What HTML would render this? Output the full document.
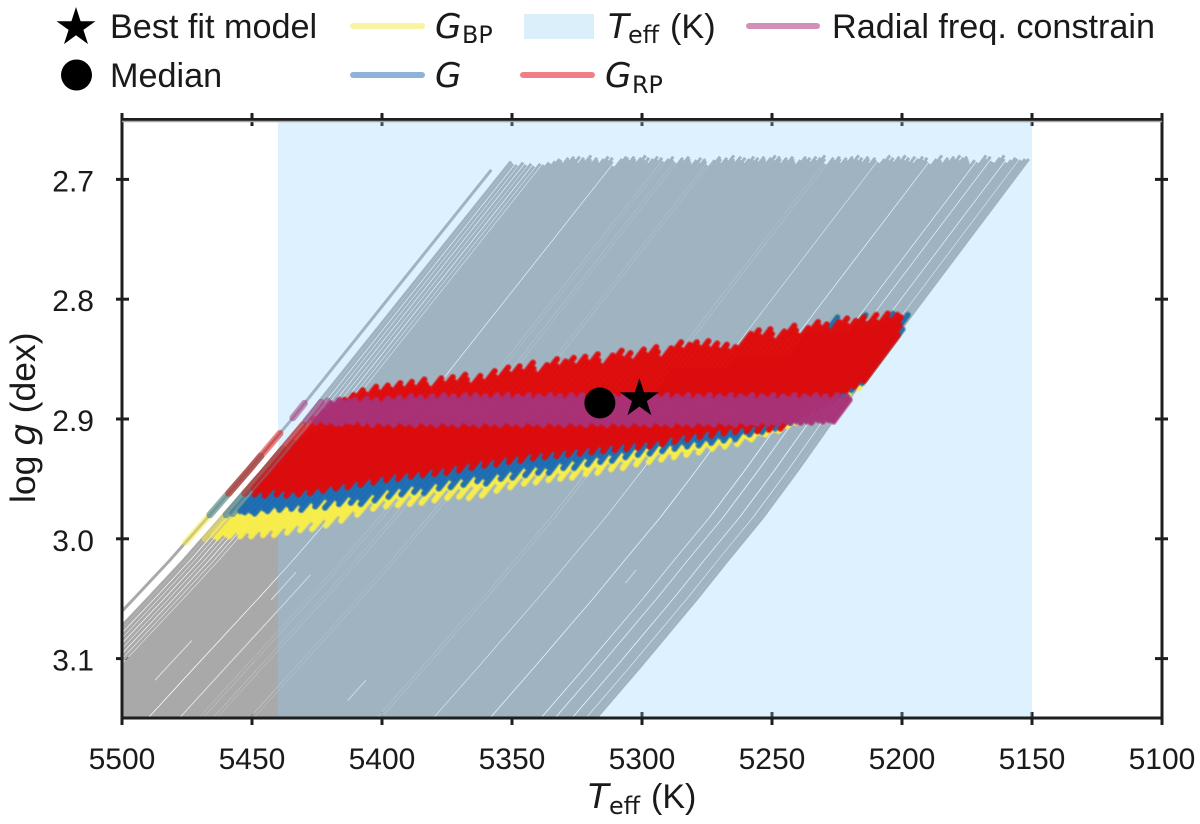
<!DOCTYPE html>
<html lang="en">
<head>
<meta charset="utf-8">
<title>log g versus effective temperature</title>
<style>
html,body{margin:0;padding:0;background:#fff;}
svg{display:block;font-family:"Liberation Sans",Arial,sans-serif;fill:#1a1a1a;}
.m{font-family:"DejaVu Sans",sans-serif;}
.mi{font-family:"DejaVu Sans",sans-serif;font-style:italic;}
</style>
</head>
<body>
<svg id="chart" xmlns="http://www.w3.org/2000/svg" width="1200" height="824" viewBox="0 0 1200 824">
  <defs><clipPath id="plot-clip"><rect x="122" y="120" width="1040" height="598"/></clipPath></defs>
  <g id="under-ticks"></g>
  <g id="gray-layer" clip-path="url(#plot-clip)"></g>
  <rect id="teff-span" y="121" height="597" fill="rgba(135,206,250,0.285)"/>
  <g id="band-layer" clip-path="url(#plot-clip)"></g>
  <g id="markers"></g>
  <g fill="none" stroke="#1e1e1e" stroke-width="3">
    <path d="M122 119.5H1162V718H122Z"/>
    <path d="M122 121.5H1162" stroke="#a8a8a8" stroke-width="1.5"/>
  </g>
  <g id="tick-labels" font-size="30"></g>
  <text y="808" font-size="34"><tspan class="mi" x="588">T</tspan><tspan class="m" x="609" y="814" font-size="23.8">eff</tspan><tspan x="651" y="808">(K)</tspan></text>
  <text transform="translate(35 503) rotate(-90)" font-size="35.5">log <tspan class="mi">g</tspan> (dex)</text>
  <g font-size="34.2">
    <polygon id="legend-star" fill="#000"/>
    <text x="110" y="38">Best fit model</text>
    <circle cx="76.5" cy="75" r="15.5" fill="#000"/>
    <text x="110" y="87">Median</text>
    <line x1="353" x2="422" y1="26" y2="26" stroke="#f8f3a0" stroke-width="6" stroke-linecap="round"/>
    <text y="38"><tspan class="mi" x="435">G</tspan><tspan class="m" x="462" y="43" font-size="23.8">BP</tspan></text>
    <line x1="353" x2="422" y1="75" y2="75" stroke="#8fb2d8" stroke-width="6" stroke-linecap="round"/>
    <text class="mi" x="435" y="87">G</text>
    <rect x="524" y="14" width="70" height="25" fill="#dbeffa"/>
    <text y="38"><tspan class="mi" x="608">T</tspan><tspan class="m" x="628" y="43" font-size="23.8">eff</tspan><tspan x="670" y="38">(K)</tspan></text>
    <line x1="523" x2="592" y1="75" y2="75" stroke="#f08085" stroke-width="6" stroke-linecap="round"/>
    <text y="87"><tspan class="mi" x="605">G</tspan><tspan class="m" x="632" y="93" font-size="23.8">RP</tspan></text>
    <line x1="749" x2="817" y1="26" y2="26" stroke="#d48fb8" stroke-width="6" stroke-linecap="round"/>
    <text x="832" y="38">Radial freq. constrain</text>
  </g>
</svg>
<script>
const xTickValues = [5500,5450,5400,5350,5300,5250,5200,5150,5100];
const xTickLabels = ["5500","5450","5400","5350","5300","5250","5200","5150","5100"];
const yTickValues = [2.7,2.8,2.9,3.0,3.1];
const yTickLabels = ["2.7","2.8","2.9","3.0","3.1"];
const teffSpan = [5440,5150];
const medianPoint = [5316.2,2.8866];
const bestFitPoint = [5301,2.883];

const trackShapeLogg = [2.67,2.684,2.815,2.901,2.9426,2.982,3.0177,3.049,3.107,3.149,3.2];
const trackShapeHot = [-5,0,48.3,80,96.2,112,126.5,140,165.4,183.5,205.8];
const trackShapeCool = [-4.7,0,45.4,75,88.5,101.9,115.4,126.9,149.2,165.8,183];

const grayTopTeff = [
5355,5350,5348.5,5346.7,5345,5343.2,5341.5,5339.7,5338,5336.3,
5335,5334,5333,5332,5331,5330,5329,5328,5327.2,5326.5,
5326,5325,5324,5323,5322,5321,5320,5319,5318,5317,
5316,5315,5314,5313,5312,5311,5309.2,5308,5307,5306,
5305,5304,5303,5302,5301,5300,5299,5298,5297,5296,
5295,5294,5293,5291.5,5290,5289,5288,5286.5,5285,5284,
5283,5282,5281,5280,5279,5278,5277,5276,5275,5273.5,
5272,5271,5270,5269,5268,5267,5266,5265,5264,5263,
5262,5261,5260,5259,5258,5257,5256,5255,5254,5253,
5252,5251,5250,5249,5248,5247,5246,5245,5244,5243,
5242,5241,5240,5239,5238,5237,5236,5235,5234,5233,
5232,5231,5230,5228.5,5227,5226,5225,5224,5223,5222,
5221,5220,5219,5218,5217,5216,5215,5214,5213,5212,
5211,5210,5208.3,5207,5206,5205,5204,5203,5202,5201,
5200,5199,5198,5197,5196,5195,5194,5193,5192,5191,
5190,5188.2,5187,5186,5185,5184,5183,5182,5181,5180,
5179,5178,5177,5176,5175,5174,5173,5172,5170.2,5169,
5168,5167,5165.2,5164,5163,5162,5161,5159.2,5158,5157,
5156,5154.3,5153,5151.6];
const grayTopLogg = [
2.692,2.685,2.687,2.688,2.686,2.688,2.687,2.689,2.687,2.688,
2.686,2.687,2.685,2.683,2.684,2.686,2.682,2.684,2.681,2.685,
2.683,2.681,2.686,2.682,2.684,2.680,2.683,2.685,2.682,2.684,
2.686,2.683,2.681,2.684,2.682,2.685,2.689,2.683,2.681,2.682,
2.684,2.681,2.683,2.685,2.682,2.680,2.684,2.682,2.686,2.683,
2.681,2.684,2.682,2.685,2.683,2.681,2.684,2.686,2.682,2.684,
2.681,2.683,2.685,2.687,2.684,2.682,2.686,2.683,2.685,2.688,
2.684,2.681,2.683,2.686,2.682,2.684,2.680,2.683,2.685,2.681,
2.684,2.682,2.686,2.683,2.681,2.684,2.682,2.685,2.681,2.683,
2.685,2.682,2.680,2.684,2.681,2.683,2.686,2.682,2.684,2.681,
2.683,2.685,2.687,2.684,2.681,2.683,2.682,2.685,2.681,2.684,
2.682,2.680,2.683,2.687,2.682,2.684,2.681,2.683,2.686,2.682,
2.684,2.681,2.683,2.680,2.684,2.682,2.685,2.681,2.683,2.686,
2.682,2.684,2.686,2.683,2.680,2.684,2.682,2.685,2.681,2.683,
2.680,2.684,2.682,2.685,2.681,2.686,2.683,2.681,2.684,2.682,
2.685,2.687,2.683,2.680,2.684,2.686,2.682,2.684,2.681,2.683,
2.680,2.684,2.682,2.681,2.683,2.685,2.687,2.684,2.686,2.680,
2.683,2.681,2.685,2.686,2.682,2.680,2.683,2.686,2.684,2.682,
2.683,2.684,2.683,2.683];

const sliverTeff = [5299,5320,5245,5305,5182];
const sliverLoggFrom = [3.03,3.085,3.118,3.028,3.026];
const sliverLoggTo = [3.149,3.118,3.135,3.051,3.037];

const bandTopTeff = [
5355,5349,5347,5345,5343,5341,5339,5337,5335,5333,5331,5329,5327,
5325,5323,5321,5319,5317,5315,5313,5311,5309,5307,
5305,5303,5301,5299,5297,5295,5293,5291,5289,5287,
5285,5283,5281,5279,5277,5275,5273,5271,5269,5267,
5265,5263,5261,5259,5257,5255,5253,5251,5249,5247,
5245,5243,5241,5239,5237,5235,5233,5231,5229,5227,
5225,5223,5221,5219,5217,5215,5213,5211,5209,5207,
5205,5203,5201,5199,5197,5195,5193,5191,5189,5187,
5185,5183,5181,5179,5177,5175,5173,5171,5169,5167,
5165,5163,5161,5159,5157,5155,5153,5151];
const grpLow = [
2.962,2.962,2.958,2.963,2.960,2.964,2.958,2.963,2.959,2.964,2.960,2.963,2.958,
2.962,2.957,2.960,2.955,2.958,2.953,2.957,2.951,2.955,2.949,
2.953,2.947,2.951,2.945,2.950,2.944,2.948,2.943,2.947,2.941,
2.946,2.940,2.945,2.938,2.943,2.936,2.941,2.934,2.939,2.933,
2.938,2.931,2.936,2.930,2.935,2.928,2.933,2.927,2.932,2.926,
2.931,2.925,2.930,2.924,2.929,2.923,2.928,2.922,2.927,2.921,
2.926,2.920,2.925,2.919,2.924,2.918,2.923,2.917,2.921,2.914,
2.919,2.912,2.917,2.911,2.915,2.909,2.914,2.908,2.912,2.907,
2.911,2.906,2.910,2.905,2.910,2.904,2.909,2.903,2.908,2.900,
2.897,2.894,2.889,2.884,2.881,2.877,2.873,2.868];
const grpHigh = [
2.912,2.905,2.900,2.894,2.889,2.884,2.880,2.876,2.879,2.873,2.877,2.872,2.875,
2.870,2.874,2.869,2.873,2.867,2.871,2.874,2.866,2.870,2.865,
2.869,2.863,2.867,2.871,2.864,2.868,2.860,2.865,2.857,2.862,
2.856,2.860,2.853,2.858,2.862,2.855,2.850,2.856,2.852,2.849,
2.855,2.848,2.852,2.846,2.851,2.855,2.847,2.843,2.849,2.845,
2.851,2.842,2.846,2.840,2.844,2.849,2.841,2.836,2.842,2.838,
2.836,2.840,2.835,2.841,2.837,2.842,2.838,2.843,2.840,2.829,
2.826,2.831,2.825,2.829,2.834,2.827,2.822,2.826,2.830,2.824,
2.819,2.823,2.821,2.826,2.819,2.816,2.822,2.818,2.815,2.820,
2.813,2.819,2.812,2.817,2.813,2.815,2.822,2.830];
const gHigh = [
2.931,2.925,2.920,2.915,2.912,2.910,2.908,2.905,2.905,2.905,2.905,2.905,2.905,
2.900,2.900,2.900,2.900,2.900,2.900,2.900,2.900,2.900,2.900,
2.900,2.900,2.900,2.900,2.900,2.900,2.900,2.900,2.900,2.900,
2.900,2.900,2.900,2.900,2.900,2.900,2.900,2.900,2.900,2.900,
2.890,2.890,2.890,2.890,2.890,2.890,2.890,2.890,2.890,2.890,
2.880,2.880,2.880,2.880,2.880,2.880,2.880,2.880,2.880,2.880,
2.860,2.860,2.860,2.860,2.860,2.860,2.860,2.860,2.860,2.860,
2.850,2.850,2.850,2.850,2.850,2.850,2.850,2.850,2.850,2.850,
2.830,2.830,2.830,2.815,2.830,2.830,2.830,2.830,2.813,2.825,
2.820,2.825,2.820,2.812,2.820,2.816,2.813,2.825];
const gLow = [
2.980,2.980,2.979,2.977,2.978,2.977,2.979,2.975,2.977,2.973,2.976,2.972,2.975,
2.971,2.976,2.969,2.973,2.966,2.974,2.967,2.971,2.964,2.970,
2.966,2.971,2.962,2.968,2.958,2.965,2.957,2.963,2.955,2.961,
2.957,2.962,2.953,2.958,2.950,2.957,2.949,2.955,2.947,2.952,
2.949,2.954,2.945,2.950,2.943,2.949,2.940,2.947,2.939,2.945,
2.940,2.945,2.936,2.941,2.934,2.941,2.932,2.938,2.931,2.936,
2.929,2.935,2.927,2.932,2.924,2.930,2.923,2.929,2.921,2.927,
2.921,2.925,2.920,2.923,2.918,2.922,2.917,2.920,2.915,2.918,
2.914,2.917,2.911,2.913,2.910,2.911,2.907,2.908,2.905,2.903,
2.900,2.896,2.892,2.889,2.885,2.881,2.876,2.870];
const gbpLow = [
3.003,3.000,2.997,2.999,2.996,2.998,2.994,2.998,2.994,2.998,2.993,2.997,2.992,
2.997,2.990,2.995,2.988,2.993,2.985,2.992,2.983,2.989,2.980,
2.985,2.976,2.980,2.969,2.975,2.967,2.973,2.965,2.972,2.963,
2.971,2.962,2.970,2.960,2.968,2.958,2.966,2.957,2.965,2.955,
2.966,2.956,2.964,2.953,2.960,2.951,2.957,2.948,2.954,2.946,
2.953,2.945,2.951,2.944,2.950,2.942,2.949,2.941,2.946,2.939,
2.945,2.936,2.942,2.934,2.941,2.932,2.938,2.930,2.936,2.928,
2.934,2.928,2.932,2.926,2.930,2.924,2.928,2.922,2.925,2.920,
2.923,2.917,2.921,2.915,2.917,2.912,2.913,2.909,2.910,2.906,
2.903,2.899,2.895,2.891,2.887,2.883,2.879,2.874];
const radialHigh = [
2.887,2.886,2.885,2.887,2.884,2.886,2.885,2.884,2.887,2.883,2.886,2.884,2.887,
2.883,2.885,2.882,2.885,2.881,2.884,2.882,2.885,2.881,2.884,
2.880,2.883,2.881,2.884,2.880,2.883,2.880,2.883,2.881,2.884,
2.880,2.883,2.880,2.884,2.881,2.883,2.880,2.884,2.881,2.883,
2.880,2.883,2.881,2.884,2.880,2.883,2.880,2.884,2.881,2.883,
2.880,2.884,2.881,2.883,2.880,2.884,2.881,2.883,2.880,2.884,
2.881,2.883,2.880,2.884,2.881,2.883,2.880,2.884,2.881,2.883,
2.880,2.884,2.881,2.883,2.880,2.884,2.881,2.883,2.880,2.884,
2.881,2.883,2.880,2.884,2.881,2.883,2.880,2.884,2.881,2.883,
2.880,2.883,2.881,2.884,2.880,2.883,2.881,2.884];
const radialLow = [
2.899,2.902,2.900,2.903,2.901,2.903,2.902,2.904,2.904,2.902,2.903,2.901,2.904,
2.902,2.905,2.902,2.904,2.903,2.905,2.902,2.904,2.903,2.905,
2.902,2.904,2.903,2.905,2.902,2.904,2.903,2.905,2.902,2.904,
2.903,2.905,2.902,2.904,2.903,2.905,2.902,2.904,2.903,2.905,
2.902,2.904,2.903,2.905,2.902,2.904,2.903,2.905,2.902,2.904,
2.903,2.905,2.902,2.904,2.903,2.905,2.902,2.904,2.903,2.905,
2.902,2.904,2.903,2.905,2.902,2.904,2.903,2.905,2.902,2.904,
2.903,2.905,2.902,2.904,2.903,2.905,2.902,2.904,2.903,2.905,
2.902,2.904,2.903,2.904,2.902,2.904,2.903,2.904,2.902,2.903,
2.902,2.903,2.902,2.903,2.901,2.902,2.901,2.902];

const SVGNS = "http://www.w3.org/2000/svg";
function xScale(t){ return 122 + (5500 - t) * 1040 / 400; }
function yScale(g){ return 419 + (g - 2.9) * 1198; }

function shapeOffset(shape, g){
  let k = 0;
  while (k < trackShapeLogg.length - 2 && g > trackShapeLogg[k + 1]) k++;
  const f = (g - trackShapeLogg[k]) / (trackShapeLogg[k + 1] - trackShapeLogg[k]);
  return shape[k] + f * (shape[k + 1] - shape[k]);
}
function trackTeff(top, g){
  const w = Math.min(1, Math.max(0, (5355 - top) / 204));
  return top + (1 - w) * shapeOffset(trackShapeHot, g) + w * shapeOffset(trackShapeCool, g);
}
function trackPath(top, gFrom, gTo){
  const gs = [gFrom];
  trackShapeLogg.forEach(function(k){ if (k > gFrom && k < gTo) gs.push(k); });
  gs.push(gTo);
  return gs.map(function(g, i){
    return (i ? "L" : "M") + xScale(trackTeff(top, g)).toFixed(1) + " " + yScale(g).toFixed(1);
  }).join("");
}

const grayLayer = document.getElementById("gray-layer");
grayTopTeff.forEach(function(top, i){
  const p = document.createElementNS(SVGNS, "path");
  
  
  p.setAttribute("d", trackPath(top, grayTopLogg[i], 3.18));
  p.setAttribute("fill", "none");
  p.setAttribute("stroke", "#a9a9a9");
  p.setAttribute("stroke-width", "3");
  p.setAttribute("stroke-linejoin", "round");
  grayLayer.appendChild(p);
});
sliverTeff.forEach(function(top, i){
  const s = document.createElementNS(SVGNS, "path");
  
  
  s.setAttribute("d", trackPath(top, sliverLoggFrom[i], sliverLoggTo[i]));
  s.setAttribute("fill", "none");
  s.setAttribute("stroke", "#fff");
  s.setAttribute("stroke-width", "1.1");
  s.setAttribute("stroke-opacity", "0.6");
  grayLayer.appendChild(s);
});

const span = document.getElementById("teff-span");
span.setAttribute("x", xScale(teffSpan[0]));
span.setAttribute("width", xScale(teffSpan[1]) - xScale(teffSpan[0]));

const bandLayer = document.getElementById("band-layer");
function drawBand(name, color, highs, lows){
  bandTopTeff.forEach(function(top, i){
    const d = trackPath(top, highs[i], lows[i]);
    const outer = document.createElementNS(SVGNS, "path");
    
    
    outer.setAttribute("d", d);
    outer.setAttribute("fill", "none");
    outer.setAttribute("stroke", color);
    outer.setAttribute("stroke-width", "7");
    outer.setAttribute("stroke-linecap", "round");
    outer.setAttribute("stroke-opacity", "0.5");
    bandLayer.appendChild(outer);
    if (i >= 3) {
      const core = document.createElementNS(SVGNS, "path");
      
      
      core.setAttribute("d", d);
      core.setAttribute("fill", "none");
      core.setAttribute("stroke", color);
      core.setAttribute("stroke-width", "4.6");
      core.setAttribute("stroke-linecap", "round");
      core.setAttribute("stroke-opacity", "0.92");
      bandLayer.appendChild(core);
    }
  });
}
drawBand("gbp-band", "#f9ee4a", gHigh, gbpLow);
drawBand("g-band", "#1a6ab5", gHigh, gLow);
drawBand("grp-band", "#e00a0a", grpHigh, grpLow);
drawBand("radial-band", "#a83278", radialHigh, radialLow);

function starPoints(cx, cy, r){
  const pts = [];
  for (let i = 0; i < 10; i++) {
    const rad = i % 2 ? r * 0.382 : r;
    const a = -Math.PI / 2 + i * Math.PI / 5;
    pts.push((cx + rad * Math.cos(a)).toFixed(1) + "," + (cy + rad * Math.sin(a)).toFixed(1));
  }
  return pts.join(" ");
}
const markers = document.getElementById("markers");
const medianDot = document.createElementNS(SVGNS, "circle");


medianDot.setAttribute("cx", xScale(medianPoint[0]));
medianDot.setAttribute("cy", yScale(medianPoint[1]));
medianDot.setAttribute("r", "15.5");
medianDot.setAttribute("fill", "#000");
markers.appendChild(medianDot);
const bestStar = document.createElementNS(SVGNS, "polygon");


bestStar.setAttribute("points", starPoints(xScale(bestFitPoint[0]), yScale(bestFitPoint[1]), 20.5));
bestStar.setAttribute("fill", "#000");
markers.appendChild(bestStar);
document.getElementById("legend-star").setAttribute("points", starPoints(76, 27.5, 20.5));

const ticks = document.getElementById("under-ticks");
const labels = document.getElementById("tick-labels");
function addTick(name, x1, y1, x2, y2){
  const l = document.createElementNS(SVGNS, "line");
  
  
  l.setAttribute("x1", x1);
  l.setAttribute("y1", y1);
  l.setAttribute("x2", x2);
  l.setAttribute("y2", y2);
  l.setAttribute("stroke", "#1e1e1e");
  l.setAttribute("stroke-width", "3");
  ticks.appendChild(l);
}
xTickValues.forEach(function(v, i){
  const x = xScale(v);
  addTick("x-tick-bottom", x, 712, x, 725);
  addTick("x-tick-top", x, 113, x, 126);
  const t = document.createElementNS(SVGNS, "text");
  
  
  t.setAttribute("x", x);
  t.setAttribute("y", 769);
  t.setAttribute("text-anchor", "middle");
  t.textContent = xTickLabels[i];
  labels.appendChild(t);
});
yTickValues.forEach(function(v, i){
  const y = yScale(v);
  addTick("y-tick-left", 116, y, 129, y);
  addTick("y-tick-right", 1155, y, 1168, y);
  const t = document.createElementNS(SVGNS, "text");
  
  
  t.setAttribute("x", 94);
  t.setAttribute("y", y + 12);
  t.setAttribute("text-anchor", "end");
  t.textContent = yTickLabels[i];
  labels.appendChild(t);
});
</script>
</body>
</html>
